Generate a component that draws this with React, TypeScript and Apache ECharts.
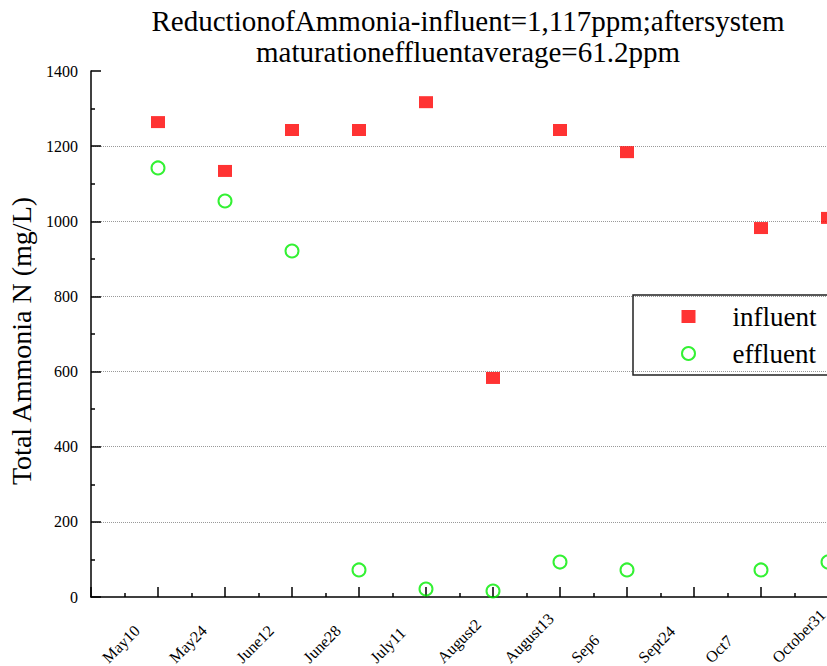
import React, { useEffect, useRef } from "react";
import * as echarts from "echarts";

const categories = ["May10", "May24", "June12", "June28", "July11", "August2", "August13", "Sep6", "Sept24", "Oct7", "October31"];
const influent: (number | null)[] = [1264, 1134, 1243, 1243, 1317, 583, 1243, 1184, null, 982, 1009];
const effluent: (number | null)[] = [1142, 1054, 921, 72, 21, 16, 93, 72, null, 72, 93];
const titleLines = ["ReductionofAmmonia-influent=1,117ppm;aftersystem", "maturationeffluentaverage=61.2ppm"];
const yAxisName = "Total Ammonia N (mg/L)";

const FONT = "'Liberation Serif', 'DejaVu Serif', serif";

function toPoints(vals: (number | null)[]) {
  const out: number[][] = [];
  vals.forEach((v, i) => {
    if (v !== null) out.push([i + 1, v]);
  });
  return out;
}

export default function App() {
  const ref = useRef<HTMLDivElement>(null);
  useEffect(() => {
    if (!ref.current) return;
    const chart = echarts.init(ref.current, undefined, { renderer: "svg" });
    chart.setOption({
      animation: false,
      backgroundColor: "#ffffff",
      title: {
        text: titleLines.join("\n"),
        left: 463,
        top: 0,
        textAlign: "center",
        textStyle: { fontFamily: FONT, fontSize: 29, fontWeight: "normal", color: "#000", lineHeight: 31 },
      },
      legend: {
        orient: "vertical",
        left: 633,
        top: 295,
        padding: [8, 60, 8, 48],
        itemWidth: 14,
        itemHeight: 13,
        itemGap: 10,
        borderColor: "#222",
        borderWidth: 1.5,
        textStyle: { fontFamily: FONT, fontSize: 27, color: "#000", padding: [0, 0, 0, 32] },
        data: [
          { name: "influent", icon: "rect" },
          { name: "effluent", icon: "circle" },
        ],
      },
      grid: { left: 91, top: 71, right: -1, bottom: 69, containLabel: false, outerBoundsMode: "none" },
      xAxis: {
        type: "value",
        min: 0,
        max: 11,
        interval: 1,
        axisLine: { show: true, lineStyle: { color: "#000", width: 1.5 } },
        axisTick: { show: true, inside: true, length: 10, lineStyle: { color: "#000", width: 1.5 } },
        minorTick: { show: true, splitNumber: 2, length: 4, lineStyle: { color: "#000", width: 1.5 } },
        splitLine: { show: false },
        axisLabel: {
          rotate: 45,
          margin: 10,
          align: "right",
          color: "#000",
          formatter: (v: number) => (Number.isInteger(v) && v >= 1 && v <= categories.length ? "{a|" + categories[v - 1] + "}" : ""),
          rich: {
            a: { width: 75, align: "left", fontFamily: FONT, fontSize: 16, color: "#000" },
          },
        },
      },
      yAxis: {
        type: "value",
        min: 0,
        max: 1400,
        interval: 200,
        name: yAxisName,
        nameLocation: "middle",
        nameGap: 56,
        nameTextStyle: { fontFamily: FONT, fontSize: 28, color: "#000", padding: [0, 14, 0, 0] },
        axisLine: { show: true, lineStyle: { color: "#000", width: 1.5 } },
        axisTick: { show: true, inside: true, length: 10, lineStyle: { color: "#000", width: 1.5 } },
        minorTick: { show: true, splitNumber: 2, length: 4, lineStyle: { color: "#000", width: 1.5 } },
        splitLine: { show: true, showMinLine: false, showMaxLine: false, lineStyle: { color: "#999", type: "dotted", width: 1 } },
        axisLabel: { fontFamily: FONT, fontSize: 16, color: "#000", margin: 13, formatter: (v: number) => String(v) },
      },
      series: [
        {
          name: "influent",
          type: "scatter",
          symbol: "rect",
          symbolSize: [14, 12],
          clip: false,
          itemStyle: { color: "#ff0000" },
          data: toPoints(influent),
        },
        {
          name: "effluent",
          type: "scatter",
          symbol: "circle",
          symbolSize: [13, 13],
          clip: false,
          itemStyle: { color: "rgba(0,0,0,0)", borderColor: "#00ee00", borderWidth: 2 },
          data: toPoints(effluent),
        },
      ],
    });
    return () => chart.dispose();
  }, []);
  return <div ref={ref} style={{ width: 827, height: 666, position: "absolute", left: 0, top: 0 }} />;
}
